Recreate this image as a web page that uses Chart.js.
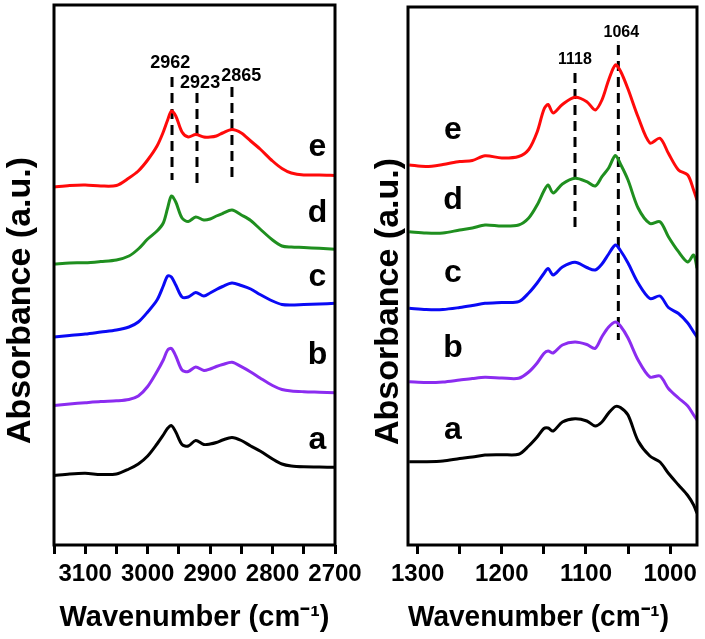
<!DOCTYPE html>
<html><head><meta charset="utf-8">
<script src="https://cdn.jsdelivr.net/npm/chart.js@4.4.1/dist/chart.umd.min.js"></script>
<style>
html,body{margin:0;padding:0;background:#fff;}
#wrap{position:relative;width:705px;height:639px;overflow:hidden;background:#fff;}
#c1{position:absolute;left:0;top:0;}
#c2{position:absolute;left:345px;top:0;}
</style></head><body>
<div id="wrap"><canvas id="c1" width="370" height="639"></canvas><canvas id="c2" width="360" height="639"></canvas></div>
<script>
// ---------- Left panel (C-H stretching region) ----------
const leftWavenumber = [3150, 3125, 3100, 3075, 3050, 3030, 3015, 3000, 2985, 2975, 2968, 2962, 2955, 2945, 2935, 2923, 2910, 2900, 2890, 2880, 2865, 2850, 2835, 2820, 2800, 2785, 2770, 2750, 2725, 2700];
const leftE = [358, 359.5, 360, 359, 359.5, 367, 374, 385, 399, 413, 425, 434, 429, 413, 408, 410.5, 408, 408, 409, 412, 415.5, 412, 404, 396, 384, 376.5, 372, 370, 370, 369.5];
const leftD = [281, 282, 282.3, 283.5, 285, 289, 296, 306, 314, 322, 337, 349, 343, 327, 323.5, 328, 325, 326, 329, 331.5, 335, 330, 324.5, 316, 305, 299, 298, 297.5, 296.7, 295.7];
const leftC = [208, 209.5, 211, 213, 215, 218, 223, 233, 245, 259, 269, 268, 260, 248, 248, 252.5, 249, 252, 255.5, 258.5, 262, 259.5, 256, 250.5, 244, 240.5, 240, 240.5, 241, 241.7];
const leftB = [139.5, 141, 142.3, 143.5, 144.2, 145.5, 149, 158.5, 173.5, 185, 195, 196.5, 189, 175, 173.5, 178, 174.5, 176, 178.5, 180.5, 182.7, 178.3, 173, 167, 159.5, 155.5, 154, 153.3, 152.8, 152.3];
const leftA = [69.5, 71, 71.7, 70.5, 71, 76, 81, 89, 101, 110, 116.7, 119.5, 113, 100.5, 99, 104.5, 100.5, 101, 102.5, 105, 107.5, 104.5, 99, 94, 86, 81, 79, 78.2, 78, 77.7];
const leftMajorTicks = [3100, 3000, 2900, 2800, 2700];
const leftMinorTicks = [3150, 3050, 2950, 2850, 2750];
const leftPeaks = [2961, 2921, 2865];
const leftPeakTop = [468, 452, 458];
const leftPeakBottom = [365, 362, 368];
const leftPeakLabels = ['2962', '2923', '2865'];
const leftPeakLabelX = [2964, 2916, 2850];
const leftPeakLabelY = [482, 462, 469];

// ---------- Right panel ----------
const rightWavenumber = [1310, 1290, 1270, 1250, 1235, 1220, 1200, 1180, 1168, 1158, 1150, 1145, 1139, 1128, 1113, 1099, 1089, 1081, 1073, 1065, 1059, 1050, 1038, 1024, 1012, 1002, 990, 979, 972, 968];
const rightE = [380, 378.5, 380.5, 383.5, 384.5, 389.3, 387, 388.5, 395.5, 413, 435.5, 440.5, 432, 440.5, 447.7, 443.3, 435, 445, 465, 480, 474, 456, 428, 402, 406.7, 391.7, 375, 370, 355, 345];
const rightD = [313.3, 312, 312, 315, 317, 320, 319, 320, 327, 340, 354, 360, 352, 361, 366.7, 363.3, 359, 368.3, 377, 389.5, 381, 365, 337, 321.5, 323.3, 308.3, 293.3, 283, 290, 277];
const rightC = [236.7, 235.5, 235.5, 237.5, 239.5, 241.7, 242.5, 243.3, 252, 262, 271.5, 276.5, 270, 278, 282.7, 277.5, 275, 281, 291, 300, 294.5, 282, 262, 246.5, 249, 237.5, 231.5, 222, 213, 208];
const rightB = [163.3, 162.5, 163, 165, 166.5, 167.7, 167, 166.7, 173, 182, 191.5, 194, 192, 200, 203, 200.5, 196.7, 208.3, 218, 223, 219, 207, 185, 168, 169, 156.5, 147, 139, 130, 125];
const rightA = [83.3, 83.3, 84, 86.5, 88, 90, 90.3, 90.7, 99, 108, 116.5, 117, 114, 123, 126.2, 124, 119, 123, 132, 138.5, 137.5, 130, 104, 89, 83, 71.7, 60, 49.5, 40, 31.7];
const rightMajorTicks = [1300, 1200, 1100, 1000];
const rightMinorTicks = [1250, 1150, 1050];
const rightPeaks = [1113, 1061.5];
const rightPeakTop = [472, 500];
const rightPeakBottom = [315, 205];
const rightPeakLabels = ['1118', '1064'];
const rightPeakLabelX = [1113, 1058];
const rightPeakLabelY = [485, 512];

const seriesNames = ['a', 'b', 'c', 'd', 'e'];
const seriesColors = ['#000000', '#8b2cf0', '#0a0af5', '#1f8f1f', '#ff0a0a'];
const leftNameY = [105, 190, 268, 332, 398];
const rightNameY = [115, 197, 272, 345, 415];
const leftNameX = 2728;
const rightNameX = 1258;

const FONT = '"Liberation Sans", Arial, Helvetica, sans-serif';

function pts(xs, ys){ return xs.map((x,i)=>({x:x, y:ys[i]})); }

const framePlugin = {
  id:'frame',
  afterDatasetsDraw(chart){
    const a = chart.chartArea, ctx = chart.ctx;
    ctx.save();
    ctx.strokeStyle = '#000'; ctx.lineWidth = 3;
    ctx.strokeRect(a.left, a.top, a.right - a.left, a.bottom - a.top);
    ctx.restore();
  }
};
function textPlugin(items){
  return {
    id:'texts',
    afterDatasetsDraw(chart){
      const ctx = chart.ctx, xs = chart.scales.x, ys = chart.scales.y;
      ctx.save();
      ctx.fillStyle = '#000'; ctx.textAlign = 'center'; ctx.textBaseline = 'middle';
      items.forEach(it=>{
        ctx.font = 'bold ' + it.size + 'px ' + FONT;
        ctx.fillText(it.text, xs.getPixelForValue(it.x), ys.getPixelForValue(it.y));
      });
      ctx.restore();
    }
  };
}

function buildChart(canvasId, cfg){
  const datasets = [];
  cfg.series.forEach((s,i)=>{
    datasets.push({data: pts(cfg.wn, s), borderColor: seriesColors[i], borderWidth: 3,
      pointRadius: 0, tension: 0.3, fill: false});
  });
  cfg.peaks.forEach((p,i)=>{
    datasets.push({data: [{x:p, y:cfg.peakTop[i]}, {x:p, y:cfg.peakBottom[i]}], borderColor:'#000',
      borderWidth: 3, borderDash: [10,6], pointRadius: 0, tension: 0, fill:false});
  });
  const items = [];
  seriesNames.forEach((n,i)=>items.push({text:n, x:cfg.nameX, y:cfg.nameY[i], size:32}));
  cfg.peakLabels.forEach((t,i)=>items.push({text:t, x:cfg.peakLabelX[i], y:cfg.peakLabelY[i], size:cfg.peakSize}));
  const allTicks = cfg.major.concat(cfg.minor).sort((a,b)=>a-b);
  return new Chart(document.getElementById(canvasId), {
    type: 'line',
    data: {datasets},
    options: {
      responsive: false, animation: false, devicePixelRatio: 1,
      layout: {padding: {left: 0, right: cfg.padRight, top: cfg.padTop, bottom: 0}},
      plugins: {legend: {display:false}, tooltip: {enabled:false}},
      scales: {
        x: {
          type: 'linear', reverse: true, min: cfg.xmin, max: cfg.xmax,
          afterBuildTicks(scale){ scale.ticks = allTicks.map(v=>({value:v})); },
          afterFit(scale){ scale.height = 94; scale.paddingLeft = 0; scale.paddingRight = 0; },
          ticks: {autoSkip:false, maxRotation:0, minRotation:0, padding: 6, color:'#000',
            font: {family: FONT, size: 24, weight: 'bold'},
            callback: v => cfg.major.includes(v) ? String(v) : ''},
          grid: {display:true, drawOnChartArea:false, drawTicks:true, tickLength: 9, tickWidth: 3, tickColor:'#000'},
          border: {display:false},
          title: {display:true, text: cfg.xTitle, color:'#000', padding: {top:0, bottom:4},
            font: {family: FONT, size: 29, weight: 'bold'}}
        },
        y: {
          type: 'linear', min: 0, max: cfg.ymax,
          afterFit(scale){ scale.width = cfg.yWidth; },
          ticks: {display:false},
          grid: {display:false},
          border: {display:false},
          title: {display:true, text: 'Absorbance (a.u.)\u2003\u2002', color:'#000',
            padding: {top: cfg.yTitlePad, bottom: 0},
            font: {family: FONT, size: 34, weight: 'bold'}}
        }
      }
    },
    plugins: [framePlugin, textPlugin(items)]
  });
}

buildChart('c1', {
  wn: leftWavenumber, series: [leftA, leftB, leftC, leftD, leftE],
  peaks: leftPeaks, peakTop: leftPeakTop, peakBottom: leftPeakBottom,
  peakLabels: leftPeakLabels, peakLabelX: leftPeakLabelX, peakLabelY: leftPeakLabelY, peakSize: 18,
  nameX: leftNameX, nameY: leftNameY,
  major: leftMajorTicks, minor: leftMinorTicks, xmin: 2700, xmax: 3150,
  padRight: 35, padTop: 5, ymax: 540, yWidth: 54, yTitlePad: 0,
  xTitle: 'Wavenumber (cm\u207B\u00B9)'
});
buildChart('c2', {
  wn: rightWavenumber, series: [rightA, rightB, rightC, rightD, rightE],
  peaks: rightPeaks, peakTop: rightPeakTop, peakBottom: rightPeakBottom,
  peakLabels: rightPeakLabels, peakLabelX: rightPeakLabelX, peakLabelY: rightPeakLabelY, peakSize: 16,
  nameX: rightNameX, nameY: rightNameY,
  major: rightMajorTicks, minor: rightMinorTicks, xmin: 968, xmax: 1311.5,
  padRight: 8, padTop: 7, ymax: 538, yWidth: 63, yTitlePad: 23,
  xTitle: 'Wavenumber (cm\u207B\u00B9)\u2003'
});
</script>
</body></html>
